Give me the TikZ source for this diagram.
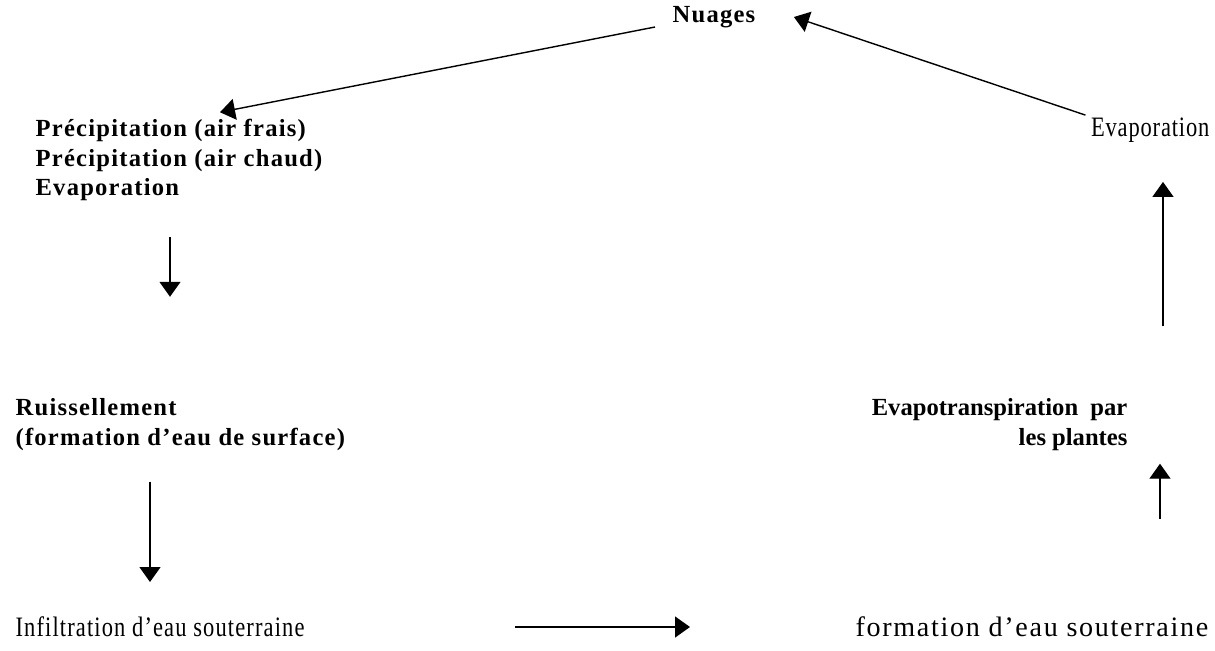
\documentclass[tikz,border=0pt]{standalone}
\usepackage{fontspec}
\setmainfont{Liberation Serif}
\newfontfamily\narrowserif{Liberation Serif}[FakeStretch=0.8]
\usetikzlibrary{arrows.meta, positioning, calc}
\tikzset{
  every picture/.style={line width=0.7pt},
  bold/.style={font=\fontsize{14}{17}\selectfont\bfseries\addfontfeature{LetterSpace=5}, anchor=west, inner sep=0pt, align=left},
  thin/.style={font=\fontsize{16}{17}\narrowserif\addfontfeature{LetterSpace=#1}, anchor=west, inner sep=0pt},
  thin/.default=4,
  arrow/.style={-{Triangle[length=3mm, width=4.2mm]}, line width=0.8pt},
}
\begin{document}
\begin{tikzpicture}[x=0.02cm, y=-0.02cm]
  \useasboundingbox (0,0) rectangle (1215,650);
  % top
  \node[bold] (nuages) at (672,17) {Nuages};
  % left column
  \node[bold] (prec) at (35,160) {Précipitation (air frais)\\Précipitation (air chaud)\\Evaporation};
  \node[bold] (ruis) at (15,425) {Ruissellement\\(formation d’eau de surface)};
  \node[thin] (infil) at (15,627) {Infiltration d’eau souterraine};
  % right column
  \node[thin=3, anchor=east] (evapR) at (1210,130) {Evaporation};
  \node[bold, anchor=east, align=right, font=\fontsize{14}{17}\selectfont\bfseries] (evapo) at (1128,425) {Evapotranspiration\ \ par\\les plantes};
  \node[thin, font=\fontsize{16}{17}\selectfont\addfontfeature{LetterSpace=6}] (formR) at (855,627) {formation d’eau souterraine};
  % arrows
  \draw[arrow] ($(nuages.west)+(-17,10)$) -- ($(prec.north west)+(185,-6)$);
  \draw[arrow] ($(prec.south west)+(135,35)$) -- ($(prec.south west)+(135,95)$);
  \draw[arrow] ($(ruis.south west)+(135,30)$) -- ($(infil.west)+(135,-45)$);
  \draw[arrow] ($(formR.west)+(-340,0)$) -- ($(formR.west)+(-165,0)$);
  \draw[arrow] ($(evapo.south east)+(32,67)$) -- ($(evapo.south east)+(32,12)$);
  \draw[arrow] ($(evapo.north east)+(35,-72)$) -- ($(evapR.south east)+(-47,39)$);
  \draw[arrow] ($(evapR.north west)+(-5,-2)$) -- ($(nuages.east)+(38,0)$);
\end{tikzpicture}
\end{document}
